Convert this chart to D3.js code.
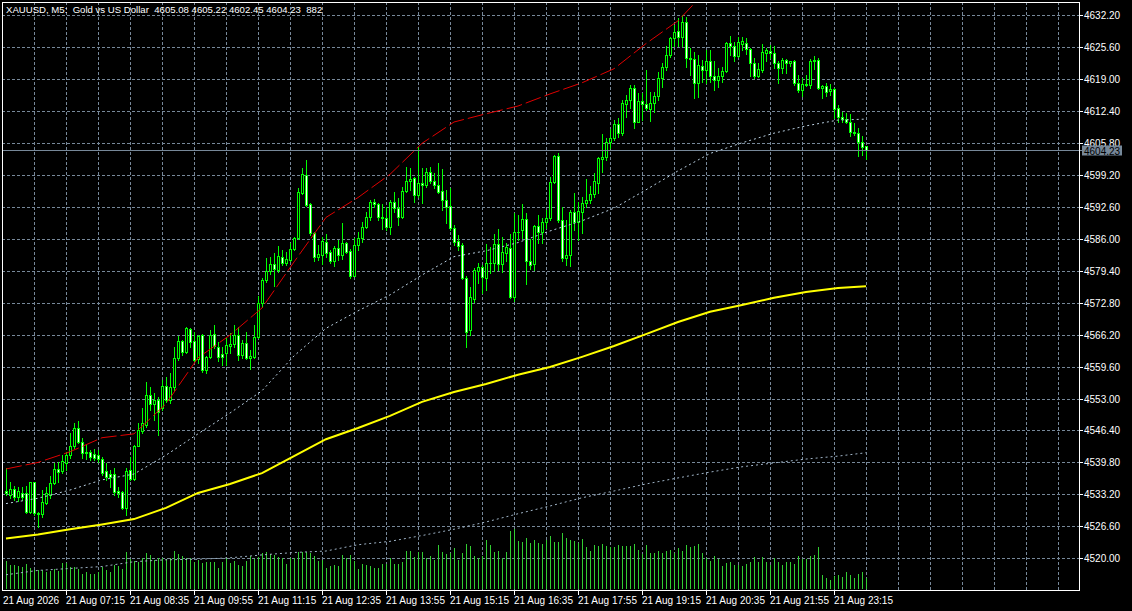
<!DOCTYPE html>
<html>
<head>
<meta charset="utf-8">
<script src="https://cdn.jsdelivr.net/npm/d3@7"></script>
<style>
html, body { margin: 0; padding: 0; background: #000; overflow: hidden; }
svg { display: block; }
text { font-family: "Liberation Sans", Arial, sans-serif; font-size: 10px; fill: #fff; }
</style>
</head>
<body>
<div id="chart"></div>
<script>
'use strict';

// ── Data (XAUUSD M5, 21 Aug 2026, bars 06:00 .. 23:55) ──

var symbol = 'XAUUSD, M5:';
var symbolName = 'Gold vs US Dollar';

var opens = [
    4533.9, 4533.1, 4534.3, 4532.7, 4533.4, 4533.4, 4529.6, 4535.7, 4529.3, 4529.1,
    4531.5, 4533.1, 4535.6, 4538.45, 4538.1, 4539.75, 4541.3, 4543.2, 4546.9, 4544.1,
    4542.0, 4541.9, 4541.55, 4541.3, 4540.5, 4538.0, 4537.4, 4537.4, 4533.8, 4533.6,
    4530.3, 4538.25, 4536.3, 4543.2, 4546.2, 4547.5, 4553.7, 4551.9, 4552.7, 4551.05,
    4555.65, 4552.7, 4555.3, 4561.3, 4564.8, 4562.7, 4567.4, 4564.8, 4561.1, 4566.1,
    4558.9, 4561.5, 4566.3, 4563.6, 4562.1, 4562.3, 4563.9, 4564.3, 4566.1, 4562.0,
    4564.5, 4561.3, 4561.5, 4565.6, 4572.7, 4577.5, 4579.4, 4580.7, 4579.55, 4582.3,
    4580.9, 4581.6, 4583.9, 4586.1, 4595.5, 4599.2, 4593.1, 4587.1, 4582.3, 4582.6,
    4585.3, 4583.2, 4581.5, 4584.0, 4582.6, 4585.05, 4583.5, 4578.3, 4584.6, 4586.1,
    4588.4, 4590.4, 4593.65, 4593.1, 4590.55, 4590.2, 4588.4, 4593.65, 4592.4, 4590.4,
    4595.9, 4598.0, 4598.5, 4595.0, 4597.6, 4597.1, 4599.7, 4598.0, 4597.1, 4595.9,
    4594.0, 4592.8, 4588.15, 4585.5, 4584.7, 4577.95, 4567.15, 4573.5, 4579.4, 4580.1,
    4577.8, 4581.05, 4580.9, 4584.85, 4580.8, 4583.1, 4584.0, 4573.9, 4587.3, 4587.7,
    4590.1, 4581.4, 4580.8, 4588.6, 4587.45, 4589.5, 4590.2, 4597.8, 4603.1, 4589.9,
    4582.0, 4582.6, 4591.6, 4589.5, 4591.6, 4593.3, 4593.9, 4595.2, 4597.6, 4602.5,
    4602.9, 4606.0, 4606.7, 4609.7, 4607.8, 4613.8, 4614.65, 4617.1, 4610.2, 4614.5,
    4613.8, 4612.8, 4614.0, 4615.5, 4619.25, 4621.4, 4623.9, 4627.4, 4628.9, 4627.6,
    4630.7, 4623.3, 4623.1, 4618.1, 4621.7, 4620.85, 4622.7, 4619.5, 4618.8, 4619.5,
    4620.6, 4626.4, 4625.7, 4623.7, 4626.2, 4626.4, 4625.1, 4622.2, 4619.5, 4620.85,
    4624.4, 4624.8, 4624.4, 4622.2, 4621.2, 4622.9, 4622.2, 4622.6, 4618.2, 4616.7,
    4618.0, 4617.75, 4622.8, 4622.9, 4617.1, 4617.5, 4616.6, 4616.9, 4612.9, 4611.1,
    4610.7, 4610.2, 4608.1, 4607.8, 4606.05, 4605.08
];

var highs = [
    4538.6, 4535.8, 4534.9, 4534.8, 4534.8, 4534.9, 4535.8, 4535.8, 4529.6, 4534.1,
    4534.8, 4536.9, 4539.6, 4539.96, 4541.3, 4542.0, 4545.8, 4547.9, 4548.4, 4544.8,
    4543.4, 4542.4, 4542.5, 4542.4, 4541.0, 4539.6, 4538.25, 4538.7, 4534.7, 4533.8,
    4538.6, 4541.0, 4543.4, 4547.9, 4551.0, 4556.5, 4555.3, 4554.15, 4553.3, 4556.8,
    4557.5, 4558.2, 4563.7, 4565.9, 4565.1, 4567.7, 4567.5, 4566.8, 4566.1, 4566.3,
    4561.85, 4567.15, 4568.2, 4564.7, 4563.7, 4565.4, 4566.5, 4568.2, 4567.85, 4565.1,
    4566.8, 4563.0, 4568.2, 4574.2, 4577.8, 4581.96, 4582.3, 4583.0, 4584.4, 4583.7,
    4583.3, 4585.05, 4586.3, 4596.4, 4600.55, 4602.3, 4593.4, 4587.45, 4584.7, 4586.4,
    4587.0, 4583.7, 4584.5, 4585.7, 4589.2, 4585.4, 4583.8, 4586.1, 4587.45, 4589.5,
    4591.6, 4593.9, 4594.15, 4593.4, 4593.2, 4592.6, 4594.0, 4595.7, 4594.35, 4596.75,
    4600.9, 4600.55, 4598.8, 4604.9, 4600.55, 4600.55, 4600.9, 4599.6, 4601.7, 4600.3,
    4596.1, 4596.4, 4588.8, 4586.8, 4585.05, 4578.2, 4576.1, 4579.9, 4580.9, 4580.6,
    4584.9, 4584.35, 4587.0, 4588.0, 4586.4, 4585.2, 4587.0, 4591.4, 4590.9, 4593.2,
    4591.4, 4585.9, 4588.8, 4590.9, 4590.2, 4591.9, 4598.8, 4603.3, 4603.8, 4592.6,
    4589.9, 4591.9, 4595.4, 4593.65, 4594.7, 4598.3, 4596.9, 4599.5, 4602.9, 4607.6,
    4606.9, 4608.65, 4610.5, 4610.9, 4614.65, 4615.7, 4617.75, 4617.75, 4616.0, 4616.0,
    4620.85, 4616.4, 4616.4, 4620.5, 4622.2, 4625.7, 4627.7, 4630.1, 4631.5, 4632.2,
    4631.85, 4625.4, 4624.6, 4623.9, 4622.9, 4624.98, 4624.98, 4622.6, 4621.2, 4621.5,
    4626.7, 4627.9, 4626.7, 4627.6, 4627.6, 4627.4, 4625.3, 4623.3, 4622.2, 4626.2,
    4625.3, 4626.0, 4625.8, 4622.6, 4623.3, 4623.05, 4622.8, 4622.9, 4619.8, 4619.1,
    4619.8, 4623.05, 4623.7, 4623.3, 4617.75, 4618.1, 4618.0, 4617.1, 4613.6, 4612.2,
    4612.0, 4611.8, 4609.8, 4608.8, 4607.2, 4605.22
];

var lows = [
    4533.1, 4532.4, 4532.1, 4531.9, 4532.1, 4529.3, 4529.3, 4528.9, 4526.5, 4528.6,
    4531.2, 4532.4, 4535.35, 4535.8, 4537.6, 4538.2, 4540.7, 4542.7, 4543.8, 4540.7,
    4540.5, 4540.3, 4540.3, 4539.96, 4537.2, 4536.2, 4534.8, 4533.1, 4532.6, 4530.1,
    4528.95, 4536.2, 4536.2, 4543.1, 4545.8, 4547.2, 4550.6, 4548.6, 4545.5, 4550.6,
    4552.3, 4552.1, 4554.8, 4560.96, 4562.0, 4562.3, 4563.7, 4560.8, 4560.3, 4558.5,
    4558.3, 4561.3, 4563.4, 4560.8, 4559.9, 4559.9, 4562.3, 4563.7, 4560.96, 4561.3,
    4561.1, 4559.05, 4561.3, 4565.4, 4572.0, 4577.1, 4578.7, 4576.25, 4579.2, 4580.6,
    4580.6, 4581.3, 4583.7, 4585.9, 4595.2, 4592.8, 4586.8, 4581.3, 4581.6, 4580.8,
    4582.3, 4580.9, 4580.4, 4581.6, 4581.75, 4583.0, 4577.8, 4578.2, 4583.7, 4585.4,
    4588.15, 4589.9, 4592.6, 4589.9, 4587.95, 4587.8, 4587.0, 4591.6, 4588.8, 4590.2,
    4595.7, 4596.1, 4593.65, 4594.7, 4593.3, 4596.75, 4597.45, 4596.4, 4595.4, 4591.9,
    4589.2, 4587.8, 4584.7, 4583.7, 4577.6, 4563.6, 4566.1, 4573.0, 4576.8, 4574.7,
    4575.4, 4578.9, 4579.4, 4579.55, 4579.2, 4581.3, 4573.7, 4573.2, 4585.7, 4586.1,
    4576.65, 4579.7, 4579.55, 4585.05, 4585.05, 4588.15, 4589.9, 4597.45, 4589.5, 4581.3,
    4580.6, 4580.4, 4587.8, 4585.7, 4587.25, 4592.6, 4593.3, 4594.7, 4595.4, 4599.85,
    4602.3, 4604.7, 4606.4, 4607.1, 4607.4, 4611.2, 4612.9, 4608.8, 4610.05, 4610.5,
    4612.6, 4610.3, 4612.2, 4614.65, 4617.4, 4620.85, 4623.6, 4625.7, 4625.7, 4625.7,
    4621.5, 4619.8, 4615.1, 4615.3, 4618.4, 4618.1, 4618.4, 4616.7, 4617.4, 4618.4,
    4620.5, 4623.9, 4622.8, 4623.6, 4624.98, 4624.1, 4619.5, 4619.1, 4619.3, 4620.5,
    4622.8, 4623.3, 4621.2, 4618.2, 4620.2, 4620.2, 4621.7, 4617.75, 4616.4, 4615.5,
    4617.5, 4617.05, 4621.0, 4616.9, 4615.0, 4615.5, 4615.7, 4610.9, 4610.2, 4610.0,
    4609.8, 4607.2, 4607.4, 4603.1, 4603.3, 4602.45
];

var closes = [
    4533.4, 4534.3, 4532.6, 4533.8, 4532.6, 4529.6, 4535.7, 4529.3, 4529.2, 4531.6,
    4533.4, 4535.5, 4538.45, 4537.9, 4540.1, 4541.3, 4543.2, 4546.9, 4544.1, 4541.8,
    4541.8, 4540.9, 4540.7, 4540.45, 4537.7, 4536.7, 4536.7, 4533.6, 4533.55, 4530.3,
    4538.0, 4536.4, 4543.2, 4546.5, 4547.9, 4553.7, 4551.9, 4552.7, 4550.2, 4555.65,
    4552.7, 4555.3, 4561.3, 4564.8, 4562.7, 4567.5, 4564.7, 4561.0, 4565.9, 4558.9,
    4561.5, 4566.1, 4563.85, 4561.6, 4561.5, 4564.0, 4564.3, 4566.1, 4562.0, 4564.4,
    4561.3, 4561.8, 4565.6, 4572.7, 4577.5, 4579.4, 4580.8, 4579.7, 4582.4, 4580.9,
    4581.8, 4583.9, 4586.1, 4595.7, 4599.3, 4593.0, 4587.1, 4582.3, 4582.85, 4585.5,
    4583.0, 4581.5, 4584.0, 4582.6, 4585.2, 4583.3, 4578.3, 4584.7, 4586.1, 4588.4,
    4590.4, 4593.65, 4593.1, 4590.55, 4590.35, 4588.4, 4593.65, 4592.3, 4590.4, 4595.9,
    4598.0, 4598.3, 4595.0, 4597.45, 4597.1, 4599.7, 4598.0, 4597.1, 4595.7, 4593.9,
    4592.6, 4588.15, 4585.4, 4584.5, 4577.8, 4566.7, 4573.9, 4579.55, 4580.2, 4578.05,
    4581.05, 4580.9, 4584.85, 4580.8, 4583.2, 4584.2, 4574.0, 4587.3, 4587.45, 4590.1,
    4581.3, 4580.6, 4588.6, 4587.45, 4589.5, 4590.2, 4597.8, 4603.1, 4589.9, 4582.0,
    4582.6, 4591.6, 4589.5, 4591.8, 4593.3, 4594.0, 4595.2, 4598.0, 4602.6, 4602.9,
    4606.0, 4606.7, 4609.7, 4607.8, 4614.0, 4614.65, 4617.1, 4610.2, 4614.5, 4613.8,
    4612.9, 4614.0, 4615.5, 4619.25, 4621.4, 4623.9, 4627.4, 4628.75, 4627.6, 4630.7,
    4623.3, 4623.1, 4618.1, 4621.9, 4620.85, 4622.6, 4619.5, 4618.8, 4619.6, 4620.6,
    4626.4, 4625.7, 4623.7, 4626.7, 4626.8, 4625.1, 4622.2, 4619.5, 4621.0, 4624.6,
    4624.98, 4624.3, 4622.2, 4621.2, 4622.9, 4622.35, 4622.6, 4618.1, 4616.7, 4618.0,
    4617.75, 4622.8, 4622.9, 4617.1, 4617.5, 4616.4, 4616.9, 4612.7, 4611.1, 4610.7,
    4610.2, 4608.1, 4607.8, 4606.05, 4605.0, 4604.23
];

var volumes = [
    2184, 1872, 1872, 1794, 1716, 1924, 1612, 1456, 1482, 1456,
    1352, 1404, 1560, 1404, 2002, 2002, 1742, 1742, 1534, 1144,
    1300, 1144, 1144, 1300, 1716, 1456, 1352, 1872, 1768, 1560,
    2860, 2340, 2184, 2132, 2444, 2782, 2626, 2236, 2444, 2444,
    2366, 2444, 2938, 2704, 2574, 2444, 2444, 2132, 2262, 2028,
    2106, 2106, 2106, 1638, 2106, 2444, 2028, 2184, 1846, 1794,
    2184, 2574, 2366, 2496, 2782, 2912, 2704, 2652, 2496, 2392,
    1924, 2444, 2444, 2860, 2860, 2860, 2808, 2574, 2184, 2262,
    1664, 1768, 1872, 1794, 2626, 2444, 2626, 2184, 1534, 1924,
    1846, 1820, 1664, 1664, 1924, 1924, 2392, 1976, 1924, 2080,
    2964, 2964, 2522, 2860, 2860, 2444, 2548, 2262, 3432, 2860,
    2704, 2782, 3172, 2262, 2782, 3484, 3328, 2548, 2444, 2548,
    3796, 3406, 2860, 2938, 2444, 2860, 4498, 4654, 3744, 3640,
    3952, 3562, 3796, 3562, 3484, 3796, 4108, 3640, 3640, 4342,
    3952, 3796, 3718, 3562, 3874, 3250, 2938, 3406, 3328, 3484,
    3328, 3250, 3250, 3406, 3328, 3328, 3328, 3484, 3016, 2704,
    3406, 2782, 2782, 2938, 2782, 2938, 3016, 2782, 3172, 2938,
    3406, 3250, 3328, 3484, 2782, 2444, 2158, 2548, 2366, 1768,
    2002, 2080, 1846, 1846, 1768, 1924, 2080, 2470, 2080, 2470,
    2132, 1846, 2392, 2080, 1846, 2080, 2080, 1924, 2548, 2314,
    2314, 2548, 2626, 3250, 1066, 832, 676, 988, 1066, 910,
    1300, 1066, 832, 1144, 1300, 882
];

// indicator lines at every 8th bar
var maBars = [0, 8, 16, 24, 32, 40, 48, 56, 64, 72, 80, 88, 96, 104,
              112, 120, 128, 136, 144, 152, 160, 168, 176, 184, 192, 200, 208, 215];

var yellowMA = [4524.1, 4524.9, 4526.0, 4527.0, 4528.1, 4530.4, 4533.5, 4535.35, 4537.6, 4541.1,
                4544.6, 4546.9, 4549.4, 4552.3, 4554.35, 4556.0, 4557.9, 4559.5, 4561.6, 4563.85,
                4566.3, 4568.8, 4570.9, 4572.3, 4573.8, 4575.0, 4575.8, 4576.2];

var dottedMA = [4531.3, 4532.4, 4534.1, 4536.2, 4537.4, 4541.3, 4545.7, 4550.0, 4554.6, 4561.8,
                4567.5, 4571.1, 4574.4, 4578.5, 4582.3, 4583.5, 4585.2, 4587.6, 4589.7, 4592.3,
                4596.1, 4600.0, 4603.6, 4605.8, 4607.8, 4609.3, 4610.5, 4610.7];

var lowerMA = [4516.6, 4517.5, 4517.9, 4518.3, 4519.3, 4519.7, 4519.8, 4520.1, 4520.7, 4521.2,
               4521.5, 4522.8, 4523.5, 4524.7, 4526.0, 4527.5, 4529.2, 4530.8, 4532.5, 4533.9,
               4535.35, 4536.6, 4537.8, 4538.9, 4539.7, 4540.5, 4541.1, 4541.8];

var redBars = [0, 8, 16, 24, 32, 40, 48, 56, 64, 72, 80, 88, 96, 104,
               112, 120, 128, 136, 144, 152, 160, 168, 172];
var redLine = [4538.45, 4539.8, 4542.0, 4544.9, 4545.7, 4551.9, 4561.4, 4566.1, 4571.7, 4581.2,
               4590.4, 4594.5, 4599.3, 4605.7, 4610.1, 4611.8, 4613.4, 4615.9, 4618.2, 4621.1,
               4626.3, 4631.0, 4634.5];

var yTicks = [4632.20, 4625.60, 4619.00, 4612.40, 4605.80, 4599.20, 4592.60, 4586.00, 4579.40,
              4572.80, 4566.20, 4559.60, 4553.00, 4546.40, 4539.80, 4533.20, 4526.60, 4520.00];

var xTickBars = [0, 15, 31, 47, 63, 79, 95, 111, 127, 143, 159, 175, 191, 207];
var xTickLabels = ['21 Aug 2026', '21 Aug 07:15', '21 Aug 08:35', '21 Aug 09:55', '21 Aug 11:15',
                   '21 Aug 12:35', '21 Aug 13:55', '21 Aug 15:15', '21 Aug 16:35', '21 Aug 17:55',
                   '21 Aug 19:15', '21 Aug 20:35', '21 Aug 21:55', '21 Aug 23:15'];

// ── Layout & colours (MT5 "green on black") ──

var W = 1132, H = 611;
var plot = {left: 2, right: 1079, top: 2, bottom: 590};
var gridColor = '#778899';
var candleColor = '#00ff00';
var volumeColor = '#32cd32';

var x = d3.scaleLinear().domain([0, 215]).range([6, 866]);
var y = d3.scaleLinear().domain([4520, 4632.2]).range([558.3, 15]);
var yv = d3.scaleLinear().domain([0, 4680]).range([589, 529]);

var bars = opens.map(function(o, i) {
    return {i: i, o: o, h: highs[i], l: lows[i], c: closes[i], v: volumes[i]};
});

var svg = d3.select('#chart').append('svg')
    .attr('xmlns', 'http://www.w3.org/2000/svg')
    .attr('width', W).attr('height', H);

svg.append('rect').attr('width', W).attr('height', H).attr('fill', '#000');

svg.append('defs').append('clipPath').attr('id', 'plotClip')
    .append('rect')
    .attr('x', plot.left + 1).attr('y', plot.top + 1)
    .attr('width', plot.right - plot.left - 1).attr('height', plot.bottom - plot.top - 1);

// ── Grid ──

var grid = svg.append('g')
    .attr('shape-rendering', 'crispEdges')
    .attr('stroke', gridColor)
    .attr('stroke-dasharray', '3,2');

grid.selectAll('.hgrid')
    .data(yTicks).enter()
    .append('line').attr('class', 'hgrid')
    .attr('x1', plot.left).attr('x2', plot.right)
    .attr('y1', function(d) { return Math.round(y(d)) + 0.5; })
    .attr('y2', function(d) { return Math.round(y(d)) + 0.5; });

grid.selectAll('.vgrid')
    .data(d3.range(7, 264, 8)).enter()
    .append('line').attr('class', 'vgrid')
    .attr('x1', function(d) { return Math.round(x(d)) + 0.5; })
    .attr('x2', function(d) { return Math.round(x(d)) + 0.5; })
    .attr('y1', plot.top).attr('y2', plot.bottom);

var g = svg.append('g').attr('clip-path', 'url(#plotClip)');

// ── Volumes ──

g.append('g').attr('shape-rendering', 'crispEdges')
    .selectAll('.vol')
    .data(bars).enter()
    .append('rect').attr('class', 'vol')
    .attr('x', function(d) { return Math.round(x(d.i)); })
    .attr('width', 1)
    .attr('y', function(d) { return Math.round(yv(d.v)); })
    .attr('height', function(d) { return 589 - Math.round(yv(d.v)); })
    .attr('fill', volumeColor);

// ── Candles ──

var candles = g.append('g').attr('shape-rendering', 'crispEdges')
    .selectAll('.candle')
    .data(bars).enter()
    .append('g').attr('class', 'candle');

candles.append('rect')
    .attr('x', function(d) { return Math.round(x(d.i)); })
    .attr('width', 1)
    .attr('y', function(d) { return Math.round(y(d.h)); })
    .attr('height', function(d) { return Math.round(y(d.l)) - Math.round(y(d.h)) + 1; })
    .attr('fill', candleColor);

candles.append('rect')
    .attr('x', function(d) { return Math.round(x(d.i)) - 1; })
    .attr('width', 3)
    .attr('y', function(d) { return Math.round(y(Math.max(d.o, d.c))); })
    .attr('height', function(d) { return Math.round(y(Math.min(d.o, d.c))) - Math.round(y(Math.max(d.o, d.c))) + 1; })
    .attr('fill', candleColor);

candles.append('rect')
    .attr('x', function(d) { return Math.round(x(d.i)); })
    .attr('width', 1)
    .attr('y', function(d) { return Math.round(y(Math.max(d.o, d.c))) + 1; })
    .attr('height', function(d) { return Math.max(0, Math.round(y(Math.min(d.o, d.c))) - Math.round(y(Math.max(d.o, d.c))) - 1); })
    .attr('fill', function(d) { return d.c >= d.o ? '#000' : '#fff'; });

// ── Indicator lines ──

var line = d3.line()
    .x(function(d) { return x(d[0]); })
    .y(function(d) { return y(d[1]); });

function series(idx, vals) { return idx.map(function(b, k) { return [b, vals[k]]; }); }

g.append('path').attr('d', line(series(maBars, lowerMA)))
    .attr('fill', 'none').attr('stroke', '#9fb3c6').attr('stroke-width', 1)
    .attr('stroke-dasharray', '2,3');

g.append('path').attr('d', line(series(maBars, dottedMA)))
    .attr('fill', 'none').attr('stroke', '#b9cfe0').attr('stroke-width', 1)
    .attr('stroke-dasharray', '2,3');

g.append('path').attr('d', line(series(redBars, redLine)))
    .attr('fill', 'none').attr('stroke', '#e00000').attr('stroke-width', 1)
    .attr('stroke-dasharray', '16,4');

g.append('path').attr('d', line(series(maBars, yellowMA)))
    .attr('fill', 'none').attr('stroke', '#ffff00').attr('stroke-width', 2);

// ── Bid line ──

var last = bars[bars.length - 1];
var bidY = Math.round(y(last.c)) + 0.5;

svg.append('line')
    .attr('x1', plot.left).attr('x2', plot.right + 3)
    .attr('y1', bidY).attr('y2', bidY)
    .attr('stroke', gridColor).attr('shape-rendering', 'crispEdges');

// ── Frame ──

svg.append('rect')
    .attr('x', plot.left + 0.5).attr('y', plot.top + 0.5)
    .attr('width', plot.right - plot.left).attr('height', plot.bottom - plot.top)
    .attr('fill', 'none').attr('stroke', '#fff').attr('shape-rendering', 'crispEdges');

// ── Price axis ──

var yAxis = svg.append('g');

yAxis.selectAll('.ytick')
    .data(yTicks).enter()
    .append('line').attr('class', 'ytick')
    .attr('x1', plot.right).attr('x2', plot.right + 4)
    .attr('y1', function(d) { return Math.round(y(d)) + 0.5; })
    .attr('y2', function(d) { return Math.round(y(d)) + 0.5; })
    .attr('stroke', '#fff').attr('shape-rendering', 'crispEdges');

// the bid box sits on top of the nearest level label, as in the terminal
yAxis.selectAll('.ylabel')
    .data(yTicks).enter()
    .append('text').attr('class', 'ylabel')
    .attr('x', plot.right + 5)
    .attr('y', function(d) { return Math.round(y(d)) + 4; })
    .text(function(d) { return d.toFixed(2); });

svg.append('rect')
    .attr('x', plot.right + 3).attr('y', bidY - 5)
    .attr('width', 40).attr('height', 10)
    .attr('fill', gridColor);

svg.append('text')
    .attr('x', plot.right + 5).attr('y', bidY + 4)
    .style('fill', '#000')
    .text(last.c.toFixed(2));

// ── Time axis ──

var xAxis = svg.append('g');

xAxis.selectAll('.xtick')
    .data(xTickBars.slice(1)).enter()
    .append('line').attr('class', 'xtick')
    .attr('x1', function(d) { return Math.round(x(d)) + 0.5; })
    .attr('x2', function(d) { return Math.round(x(d)) + 0.5; })
    .attr('y1', plot.bottom).attr('y2', plot.bottom + 5)
    .attr('stroke', '#fff').attr('shape-rendering', 'crispEdges');

xAxis.selectAll('.xlabel')
    .data(xTickBars).enter()
    .append('text').attr('class', 'xlabel')
    .attr('x', function(d, k) { return k === 0 ? plot.left + 1 : Math.round(x(d)); })
    .attr('y', 604)
    .text(function(d, k) { return xTickLabels[k]; });

// ── Header ──

svg.append('text')
    .attr('x', 6).attr('y', 13)
    .attr('xml:space', 'preserve')
    .style('white-space', 'pre')
    .style('font-size', '9.6px')
    .text(symbol + '  ' + symbolName + '  ' +
          [last.o, last.h, last.l, last.c].map(function(v) { return v.toFixed(2); }).join(' ') +
          '  ' + last.v);
</script>
</body>
</html>
